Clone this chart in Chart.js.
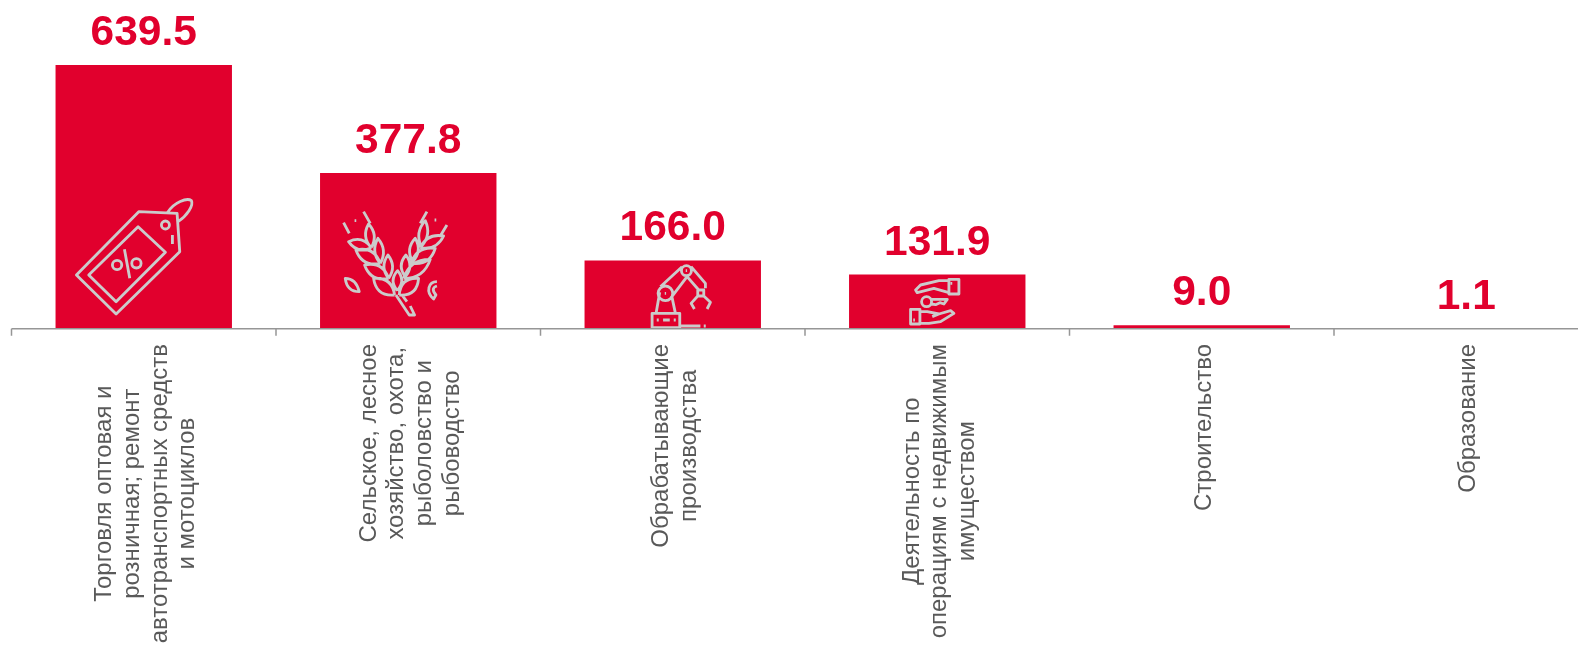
<!DOCTYPE html>
<html>
<head>
<meta charset="utf-8">
<style>
html, body { margin: 0; padding: 0; background: #fff; overflow: hidden; }
#wrap { width: 1578px; height: 647px; overflow: hidden; }
</style>
<script src="https://cdn.jsdelivr.net/npm/chart.js@4/dist/chart.umd.min.js"></script>
</head>
<body>
<div id="wrap"><canvas id="chart"></canvas></div>
<script>
const categories = [
    ['Торговля оптовая и', 'розничная; ремонт', 'автотранспортных средств', 'и мотоциклов'],
    ['Сельское, лесное', 'хозяйство, охота,', 'рыболовство и', 'рыбоводство'],
    ['Обрабатывающие', 'производства'],
    ['Деятельность по', 'операциям с недвижимым', 'имуществом'],
    ['Строительство'],
    ['Образование']
];
const values = [639.5, 377.8, 166.0, 131.9, 9.0, 1.1];

const red = '#e1002d';
const iconColor = '#cbcbcb';

// one kernel of the wheat icon, from stalk to tip
function leaf(x0, y0, x1, y1, w) {
    const mx = (x0 + x1) / 2, my = (y0 + y1) / 2;
    const dx = (y1 - y0), dy = (x0 - x1);
    const len = Math.hypot(dx, dy);
    const nx = dx / len * w, ny = dy / len * w;
    return `M${x0} ${y0} Q${mx + nx} ${my + ny} ${x1} ${y1} Q${mx - nx} ${my - ny} ${x0} ${y0} `;
}

const wheat = [
    [178, 285, 115, 235, 38], [186, 272, 187, 212, 26], [192, 285, 250, 235, 38],
    [160, 235, 88, 195, 36], [160, 235, 158, 165, 26], [135, 190, 62, 150, 36], [135, 190, 128, 115, 26],
    [108, 143, 40, 125, 30], [108, 143, 100, 72, 26],
    [205, 235, 285, 178, 36], [210, 230, 212, 165, 26], [228, 190, 300, 145, 36], [232, 185, 240, 115, 26],
    [255, 143, 325, 108, 30], [258, 140, 270, 62, 26]
].map(k => leaf(...k)).join('');

// icons sit in the bars, units are 1/3 px from bar centre and baseline; offset is the crop origin they were traced in
const icons = [
    { dx: -430, dy: -987, d: 'M228 825 L347 942 L538 755 L530 640 L415 635 Z M265 825 L347 905 L495 757 L413 680 Z ' +
        'M483 675 a12 12 0 1 0 24 0 a12 12 0 1 0 -24 0 M502 637 C520 607 560 592 573 602 C580 617 560 647 533 665 ' +
        'M516 705 V732 M372 748 L388 835 M336 795 a14 14 0 1 0 28 0 a14 14 0 1 0 -28 0 M394 790 a14 14 0 1 0 28 0 a14 14 0 1 0 -28 0' },
    { dx: -219, dy: -387, d: wheat + 'M182 285 L222 345 H238 L225 318 M200 285 L215 305 ' +
        'M85 35 L105 70 M25 68 L42 100 M275 35 L255 70 M335 75 L315 108 ' +
        'M58 62 h5 M298 60 h5 M30 235 Q62 235 72 275 Q35 275 30 235 Z ' +
        'M305 245 C280 245 270 275 295 297 L302 285 C290 270 292 262 305 258' },
    { dx: -97, dy: -222, d: 'M35 175 H118 V218 H35 Z M49 195 h6 M68 195 H88 M100 195 h6 M118 213 H180 M190 213 h6 ' +
        'M47 175 L58 112 M105 175 L95 128 ' +
        'M53 115 a22 22 0 1 0 44 0 a22 22 0 1 0 -44 0 M73 115 h4 ' +
        'M60 95 L125 35 M92 128 L140 65 ' +
        'M123 47 a15 15 0 1 0 30 0 a15 15 0 1 0 -30 0 M136 47 h4 ' +
        'M152 35 L195 85 V100 M140 65 L175 105 ' +
        'M172 105 H190 V123 H172 Z M172 123 L152 145 L162 162 M190 123 L210 142 L200 162' },
    { dx: -110, dy: -177, d: 'M145 28 H175 V72 H145 Z M145 32 H115 L60 45 L45 60 L50 68 L100 55 L145 68 M150 40 h5 ' +
        'M63 95 a15 15 0 1 0 30 0 a15 15 0 1 0 -30 0 M93 88 H140 L130 102 L118 98 L105 104 L93 102 ' +
        'M30 118 H58 V162 H30 Z M58 125 H80 L115 132 L150 122 L160 130 L120 155 L85 160 H58 M115 132 L95 140 M38 150 h5' }
];

const iconPlugin = {
    id: 'icons',
    afterDatasetsDraw(chart) {
        const ctx = chart.ctx;
        const bars = chart.getDatasetMeta(0).data;
        const base = chart.scales.y.getPixelForValue(0);
        icons.forEach((icon, i) => {
            ctx.save();
            ctx.translate(bars[i].x, base);
            ctx.scale(1 / 3, 1 / 3);
            ctx.translate(icon.dx, icon.dy);
            ctx.strokeStyle = iconColor;
            ctx.lineWidth = 8.5;
            ctx.lineJoin = 'round';
            ctx.stroke(new Path2D(icon.d));
            ctx.restore();
        });
    }
};

const labelPlugin = {
    id: 'labels',
    afterDraw(chart) {
        const ctx = chart.ctx;
        const bars = chart.getDatasetMeta(0).data;
        const xScale = chart.scales.x;
        const base = chart.scales.y.getPixelForValue(0);
        ctx.save();
        ctx.textAlign = 'center';
        ctx.textBaseline = 'alphabetic';
        ctx.fillStyle = red;
        ctx.font = 'bold 42.5px "Liberation Sans"';
        values.forEach((v, i) => {
            ctx.fillText(v.toFixed(1), bars[i].x, bars[i].y - 20);
        });
        // rotated, centred multi-line category names
        ctx.fillStyle = '#595959';
        ctx.font = '24px "Liberation Sans"';
        categories.forEach((lines, i) => {
            const widest = Math.max(...lines.map(l => ctx.measureText(l).width));
            const x = xScale.getPixelForValue(i);
            lines.forEach((line, j) => {
                ctx.save();
                ctx.translate(x + (j - (lines.length - 1) / 2) * 27.7 + 9, base + 15 + widest / 2);
                ctx.rotate(-Math.PI / 2);
                ctx.fillText(line, 0, 0);
                ctx.restore();
            });
        });
        ctx.restore();
    }
};

const canvas = document.getElementById('chart');
canvas.width = 1610;
canvas.height = 647;
canvas.style.width = '1610px';
canvas.style.height = '647px';

new Chart(canvas, {
    type: 'bar',
    data: {
        labels: categories,
        datasets: [{
            data: values,
            backgroundColor: red,
            barPercentage: 1,
            categoryPercentage: 0.667
        }]
    },
    options: {
        responsive: false,
        animation: false,
        devicePixelRatio: 1,
        layout: { padding: { left: 11.5, right: 11.5, top: 65, bottom: 310 } },
        plugins: { legend: { display: false }, tooltip: { enabled: false } },
        scales: {
            x: {
                border: { display: false },
                grid: { display: false },
                ticks: { display: false }
            },
            y: {
                display: false,
                min: 0,
                max: 639.5
            }
        }
    },
    plugins: [iconPlugin, labelPlugin, {
        id: 'axisLine',
        afterDatasetsDraw(chart) {
            const ctx = chart.ctx;
            const xScale = chart.scales.x;
            const base = Math.round(chart.scales.y.getPixelForValue(0)) - 0.25;
            const step = xScale.width / categories.length;
            ctx.save();
            ctx.strokeStyle = '#969696';
            ctx.lineWidth = 1.5;
            ctx.beginPath();
            ctx.moveTo(xScale.left, base);
            ctx.lineTo(xScale.right, base);
            for (let i = 0; i <= categories.length; i++) {
                ctx.moveTo(xScale.left + step * i, base);
                ctx.lineTo(xScale.left + step * i, base + 7);
            }
            ctx.stroke();
            ctx.restore();
        }
    }]
});
</script>
</body>
</html>
